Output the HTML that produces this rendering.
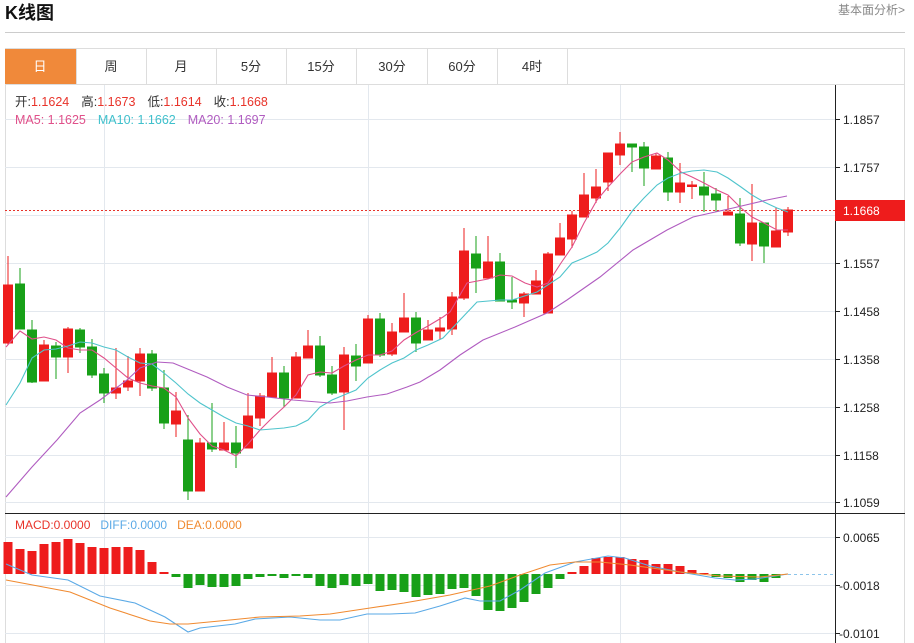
<!DOCTYPE html>
<html><head><meta charset="utf-8"><style>
html,body{margin:0;padding:0;background:#fff;width:914px;height:643px;overflow:hidden}
svg{display:block;font-family:"Liberation Sans","Noto Sans CJK SC",sans-serif}
</style></head><body>
<svg width="914" height="643" viewBox="0 0 914 643" xmlns="http://www.w3.org/2000/svg">
<text x="5" y="19" font-size="18" font-weight="bold" fill="#111">K线图</text>
<text x="905" y="14" font-size="12" fill="#888" text-anchor="end">基本面分析&gt;</text>
<line x1="5" y1="32.5" x2="905" y2="32.5" stroke="#ccc"/>
<rect x="5.5" y="48.5" width="899" height="600" fill="none" stroke="#ddd"/>
<rect x="5" y="49" width="71" height="35" fill="#f0893a"/>
<g stroke="#ddd"><line x1="76.5" y1="49" x2="76.5" y2="84"/><line x1="146.5" y1="49" x2="146.5" y2="84"/><line x1="216.5" y1="49" x2="216.5" y2="84"/><line x1="286.5" y1="49" x2="286.5" y2="84"/><line x1="356.5" y1="49" x2="356.5" y2="84"/><line x1="427.5" y1="49" x2="427.5" y2="84"/><line x1="497.5" y1="49" x2="497.5" y2="84"/><line x1="567.5" y1="49" x2="567.5" y2="84"/><line x1="5" y1="84.5" x2="905" y2="84.5"/></g>
<g font-size="13" text-anchor="middle" fill="#333"><text x="40" y="71" fill="#fff">日</text><text x="111" y="71">周</text><text x="181" y="71">月</text><text x="251" y="71">5分</text><text x="321" y="71">15分</text><text x="392" y="71">30分</text><text x="462" y="71">60分</text><text x="532" y="71">4时</text></g>
<g stroke="#e3e8ee"><line x1="104.5" y1="85" x2="104.5" y2="643"/><line x1="368.5" y1="85" x2="368.5" y2="643"/><line x1="620.5" y1="85" x2="620.5" y2="643"/>
<line x1="5" y1="119.5" x2="835" y2="119.5"/><line x1="5" y1="167.5" x2="835" y2="167.5"/><line x1="5" y1="215.5" x2="835" y2="215.5"/><line x1="5" y1="263.5" x2="835" y2="263.5"/><line x1="5" y1="311.5" x2="835" y2="311.5"/><line x1="5" y1="359.5" x2="835" y2="359.5"/><line x1="5" y1="407.5" x2="835" y2="407.5"/><line x1="5" y1="455.5" x2="835" y2="455.5"/><line x1="5" y1="502.5" x2="835" y2="502.5"/>
<line x1="5" y1="537.5" x2="835" y2="537.5"/><line x1="5" y1="585.5" x2="835" y2="585.5"/><line x1="5" y1="633.5" x2="835" y2="633.5"/></g>
<g font-size="12.5"><text x="15" y="106" fill="#333">开:<tspan fill="#e8332a">1.1624</tspan><tspan dx="12">高:</tspan><tspan fill="#e8332a">1.1673</tspan><tspan dx="12">低:</tspan><tspan fill="#e8332a">1.1614</tspan><tspan dx="12">收:</tspan><tspan fill="#e8332a">1.1668</tspan></text>
<text x="15" y="124" fill="#e0508a">MA5: 1.1625<tspan dx="12" fill="#3fc0cc">MA10: 1.1662</tspan><tspan dx="12" fill="#b05cc0">MA20: 1.1697</tspan></text>
<text x="15" y="529" font-size="12" fill="#e8332a">MACD:0.0000<tspan dx="10" fill="#5aa9e6">DIFF:0.0000</tspan><tspan dx="10" fill="#f08a30">DEA:0.0000</tspan></text></g>
<line x1="5" y1="210.5" x2="835" y2="210.5" stroke="#e8332a" stroke-dasharray="2,2"/>
<g id="candles">
<g stroke="#ee1c1c" fill="#ee1c1c">
<line x1="8" y1="256" x2="8" y2="345"/><rect x="3.5" y="285" width="9" height="58"/>
<line x1="44" y1="340" x2="44" y2="381"/><rect x="39.5" y="345" width="9" height="36"/>
<line x1="68" y1="327" x2="68" y2="373"/><rect x="63.5" y="329" width="9" height="28"/>
<line x1="116" y1="348" x2="116" y2="399"/><rect x="111.5" y="388" width="9" height="5"/>
<line x1="128" y1="356" x2="128" y2="391"/><rect x="123.5" y="381" width="9" height="6"/>
<line x1="140" y1="348" x2="140" y2="396"/><rect x="135.5" y="354" width="9" height="27"/>
<line x1="176" y1="392" x2="176" y2="437"/><rect x="171.5" y="411" width="9" height="13"/>
<line x1="200" y1="438" x2="200" y2="491"/><rect x="195.5" y="443" width="9" height="48"/>
<line x1="224" y1="422" x2="224" y2="450"/><rect x="219.5" y="443" width="9" height="7"/>
<line x1="248" y1="393" x2="248" y2="448"/><rect x="243.5" y="416" width="9" height="32"/>
<line x1="260" y1="393" x2="260" y2="426"/><rect x="255.5" y="396" width="9" height="22"/>
<line x1="272" y1="357" x2="272" y2="397"/><rect x="267.5" y="373" width="9" height="24"/>
<line x1="296" y1="352" x2="296" y2="398"/><rect x="291.5" y="357" width="9" height="41"/>
<line x1="308" y1="330" x2="308" y2="358"/><rect x="303.5" y="346" width="9" height="12"/>
<line x1="344" y1="347" x2="344" y2="430"/><rect x="339.5" y="355" width="9" height="37"/>
<line x1="368" y1="315" x2="368" y2="363"/><rect x="363.5" y="319" width="9" height="44"/>
<line x1="392" y1="323" x2="392" y2="356"/><rect x="387.5" y="332" width="9" height="22"/>
<line x1="404" y1="293" x2="404" y2="332"/><rect x="399.5" y="318" width="9" height="14"/>
<line x1="428" y1="320" x2="428" y2="340"/><rect x="423.5" y="330" width="9" height="10"/>
<line x1="440" y1="317" x2="440" y2="339"/><rect x="435.5" y="328" width="9" height="3"/>
<line x1="452" y1="292" x2="452" y2="335"/><rect x="447.5" y="297" width="9" height="32"/>
<line x1="464" y1="228" x2="464" y2="300"/><rect x="459.5" y="251" width="9" height="47"/>
<line x1="488" y1="236" x2="488" y2="278"/><rect x="483.5" y="262" width="9" height="16"/>
<line x1="524" y1="292" x2="524" y2="317"/><rect x="519.5" y="294" width="9" height="9"/>
<line x1="536" y1="270" x2="536" y2="294"/><rect x="531.5" y="281" width="9" height="13"/>
<line x1="548" y1="252" x2="548" y2="313"/><rect x="543.5" y="254" width="9" height="59"/>
<line x1="560" y1="223" x2="560" y2="255"/><rect x="555.5" y="238" width="9" height="17"/>
<line x1="572" y1="211" x2="572" y2="248"/><rect x="567.5" y="215" width="9" height="24"/>
<line x1="584" y1="173" x2="584" y2="217"/><rect x="579.5" y="195" width="9" height="22"/>
<line x1="596" y1="169" x2="596" y2="203"/><rect x="591.5" y="187" width="9" height="11"/>
<line x1="608" y1="153" x2="608" y2="191"/><rect x="603.5" y="153" width="9" height="29"/>
<line x1="620" y1="132" x2="620" y2="165"/><rect x="615.5" y="144" width="9" height="11"/>
<line x1="656" y1="153" x2="656" y2="169"/><rect x="651.5" y="156" width="9" height="13"/>
<line x1="680" y1="163" x2="680" y2="203"/><rect x="675.5" y="183" width="9" height="9"/>
<line x1="692" y1="181" x2="692" y2="199"/><rect x="687.5" y="185" width="9" height="1.5"/>
<line x1="728" y1="196" x2="728" y2="215"/><rect x="723.5" y="212" width="9" height="3"/>
<line x1="752" y1="184" x2="752" y2="261"/><rect x="747.5" y="223" width="9" height="21"/>
<line x1="776" y1="208" x2="776" y2="247"/><rect x="771.5" y="231" width="9" height="16"/>
<line x1="788" y1="207" x2="788" y2="236"/><rect x="783.5" y="210" width="9" height="22"/>
</g>
<g stroke="#18a018" fill="#18a018">
<line x1="20" y1="268" x2="20" y2="329"/><rect x="15.5" y="284" width="9" height="45"/>
<line x1="32" y1="320" x2="32" y2="383"/><rect x="27.5" y="330" width="9" height="52"/>
<line x1="56" y1="342" x2="56" y2="379"/><rect x="51.5" y="346" width="9" height="11"/>
<line x1="80" y1="328" x2="80" y2="353"/><rect x="75.5" y="330" width="9" height="17"/>
<line x1="92" y1="339" x2="92" y2="378"/><rect x="87.5" y="347" width="9" height="28"/>
<line x1="104" y1="368" x2="104" y2="403"/><rect x="99.5" y="374" width="9" height="19"/>
<line x1="152" y1="350" x2="152" y2="391"/><rect x="147.5" y="354" width="9" height="34"/>
<line x1="164" y1="370" x2="164" y2="429"/><rect x="159.5" y="388" width="9" height="35"/>
<line x1="188" y1="415" x2="188" y2="500"/><rect x="183.5" y="440" width="9" height="51"/>
<line x1="212" y1="403" x2="212" y2="452"/><rect x="207.5" y="443" width="9" height="6"/>
<line x1="236" y1="426" x2="236" y2="468"/><rect x="231.5" y="443" width="9" height="10"/>
<line x1="284" y1="366" x2="284" y2="407"/><rect x="279.5" y="373" width="9" height="25"/>
<line x1="320" y1="336" x2="320" y2="377"/><rect x="315.5" y="346" width="9" height="29"/>
<line x1="332" y1="366" x2="332" y2="395"/><rect x="327.5" y="375" width="9" height="18"/>
<line x1="356" y1="344" x2="356" y2="381"/><rect x="351.5" y="356" width="9" height="10"/>
<line x1="380" y1="313" x2="380" y2="357"/><rect x="375.5" y="319" width="9" height="36"/>
<line x1="416" y1="312" x2="416" y2="352"/><rect x="411.5" y="318" width="9" height="25"/>
<line x1="476" y1="236" x2="476" y2="293"/><rect x="471.5" y="254" width="9" height="14"/>
<line x1="500" y1="253" x2="500" y2="301"/><rect x="495.5" y="262" width="9" height="39"/>
<line x1="512" y1="277" x2="512" y2="309"/><rect x="507.5" y="300" width="9" height="2"/>
<line x1="632" y1="144" x2="632" y2="172"/><rect x="627.5" y="144" width="9" height="3"/>
<line x1="644" y1="142" x2="644" y2="186"/><rect x="639.5" y="147" width="9" height="21"/>
<line x1="668" y1="152" x2="668" y2="201"/><rect x="663.5" y="158" width="9" height="34"/>
<line x1="704" y1="172" x2="704" y2="212"/><rect x="699.5" y="187" width="9" height="8"/>
<line x1="716" y1="188" x2="716" y2="212"/><rect x="711.5" y="194" width="9" height="6"/>
<line x1="740" y1="198" x2="740" y2="246"/><rect x="735.5" y="214" width="9" height="29"/>
<line x1="764" y1="223" x2="764" y2="263"/><rect x="759.5" y="223" width="9" height="23"/>
</g></g>
<g fill="none" stroke-width="1.1">
<polyline stroke="#e0508a" points="6,347 20,331 32,339 44,337 56,340 68,348 80,350 92,350 104,358 116,368 128,378 140,383 152,386 164,388 176,397 188,418 200,434 212,446 224,450 236,456 248,444 260,430 272,418 284,407 296,395 308,375 320,372 332,373 344,366 356,360 368,355 380,355 392,351 404,340 417,332 428,326 443,317 450,312 467,283 488,279 500,275 512,276 525,283 537,287 548,283 561,263 572,247 584,223 597,200 608,187 621,173 632,162 644,157 657,153 668,160 681,172 692,177 704,183 717,190 728,195 741,208 752,217 764,223 777,230 788,230"/>
<polyline stroke="#4fc4cc" points="6,405 20,383 32,358 44,350 56,349 68,346 80,342 92,343 104,347 116,350 128,357 140,363 152,364 164,373 176,383 188,394 200,403 212,410 224,417 236,423 248,426 260,430 272,429 284,428 296,426 308,420 320,407 332,400 344,395 356,390 368,378 380,370 392,363 404,358 416,350 428,345 443,338 460,320 477,302 500,300 512,300 537,292 560,277 572,263 584,258 597,252 608,243 621,227 633,210 644,198 657,185 668,178 681,173 692,171 704,170 717,172 728,178 741,187 752,195 764,202 777,208 788,212"/>
<polyline stroke="#b05cc0" points="6,497 32,467 57,440 80,413 100,400 127,380 140,368 157,362 173,363 190,370 207,377 227,387 247,395 267,397 293,400 330,403 347,401 367,397 387,394 407,387 420,382 440,370 460,355 483,340 515,327 547,313 567,300 600,277 633,250 667,230 693,217 733,208 767,200 787,196"/>
</g>
<g>
<g fill="#ee1c1c">
<rect x="3.5" y="542" width="9" height="32"/><rect x="15.5" y="549" width="9" height="25"/><rect x="27.5" y="551" width="9" height="23"/><rect x="39.5" y="544" width="9" height="30"/><rect x="51.5" y="542" width="9" height="32"/><rect x="63.5" y="539" width="9" height="35"/><rect x="75.5" y="543" width="9" height="31"/><rect x="87.5" y="547" width="9" height="27"/><rect x="99.5" y="548" width="9" height="26"/><rect x="111.5" y="547" width="9" height="27"/><rect x="123.5" y="547" width="9" height="27"/><rect x="135.5" y="550" width="9" height="24"/><rect x="147.5" y="562" width="9" height="12"/><rect x="159.5" y="572" width="9" height="2"/>
<rect x="567.5" y="572" width="9" height="2"/><rect x="579.5" y="566" width="9" height="8"/><rect x="591.5" y="558" width="9" height="16"/><rect x="603.5" y="557" width="9" height="17"/><rect x="615.5" y="557" width="9" height="17"/><rect x="627.5" y="559" width="9" height="15"/><rect x="639.5" y="560" width="9" height="14"/><rect x="651.5" y="564" width="9" height="10"/><rect x="663.5" y="564" width="9" height="10"/><rect x="675.5" y="566" width="9" height="8"/><rect x="687.5" y="570" width="9" height="4"/><rect x="699.5" y="573" width="9" height="1"/>
</g>
<g fill="#18a018">
<rect x="171.5" y="574" width="9" height="3"/><rect x="183.5" y="574" width="9" height="14"/><rect x="195.5" y="574" width="9" height="11"/><rect x="207.5" y="574" width="9" height="13"/><rect x="219.5" y="574" width="9" height="13"/><rect x="231.5" y="574" width="9" height="12"/><rect x="243.5" y="574" width="9" height="5"/><rect x="255.5" y="574" width="9" height="3"/><rect x="267.5" y="574" width="9" height="2"/><rect x="279.5" y="574" width="9" height="4"/><rect x="291.5" y="574" width="9" height="2"/><rect x="303.5" y="574" width="9" height="4"/><rect x="315.5" y="574" width="9" height="12"/><rect x="327.5" y="574" width="9" height="14"/><rect x="339.5" y="574" width="9" height="11"/><rect x="351.5" y="574" width="9" height="12"/><rect x="363.5" y="574" width="9" height="10"/><rect x="375.5" y="574" width="9" height="17"/><rect x="387.5" y="574" width="9" height="16"/><rect x="399.5" y="574" width="9" height="18"/><rect x="411.5" y="574" width="9" height="23"/><rect x="423.5" y="574" width="9" height="21"/><rect x="435.5" y="574" width="9" height="20"/><rect x="447.5" y="574" width="9" height="15"/><rect x="459.5" y="574" width="9" height="14"/><rect x="471.5" y="574" width="9" height="22"/><rect x="483.5" y="574" width="9" height="36"/><rect x="495.5" y="574" width="9" height="37"/><rect x="507.5" y="574" width="9" height="34"/><rect x="519.5" y="574" width="9" height="28"/><rect x="531.5" y="574" width="9" height="20"/><rect x="543.5" y="574" width="9" height="14"/><rect x="555.5" y="574" width="9" height="5"/>
<rect x="711.5" y="574" width="9" height="3"/><rect x="723.5" y="574" width="9" height="4"/><rect x="735.5" y="574" width="9" height="8"/><rect x="747.5" y="574" width="9" height="6"/><rect x="759.5" y="574" width="9" height="8"/><rect x="771.5" y="574" width="9" height="4"/>
</g>
<line x1="788" y1="574.5" x2="835" y2="574.5" stroke="#8cc4ea" stroke-dasharray="3,3"/>
<g fill="none" stroke-width="1.1">
<polyline stroke="#5aa9e6" points="6,564 32,575 68,580 100,596 135,603 165,617 188,632 200,628 235,624 255,619 290,617 320,620 340,620 367,614 390,614 415,613 440,606 465,598 480,601 500,601 520,590 545,573 575,562 608,556 625,558 650,566 680,572 715,578 735,580 755,579 775,576 788,574"/>
<polyline stroke="#f08a30" points="6,580 70,592 110,608 150,621 170,624 188,624 230,620 260,617 300,616 330,614 370,608 404,603 450,595 490,586 520,575 550,565 575,562 600,562 630,565 680,572 720,576 760,577 788,574"/>
</g></g>
<line x1="5" y1="513.5" x2="905" y2="513.5" stroke="#222"/>
<line x1="835.5" y1="85" x2="835.5" y2="643" stroke="#222"/>
<g stroke="#222"><line x1="835" y1="119.5" x2="840" y2="119.5"/><line x1="835" y1="167.5" x2="840" y2="167.5"/><line x1="835" y1="263.5" x2="840" y2="263.5"/><line x1="835" y1="311.5" x2="840" y2="311.5"/><line x1="835" y1="359.5" x2="840" y2="359.5"/><line x1="835" y1="407.5" x2="840" y2="407.5"/><line x1="835" y1="455.5" x2="840" y2="455.5"/><line x1="835" y1="502.5" x2="840" y2="502.5"/><line x1="835" y1="537.5" x2="840" y2="537.5"/><line x1="835" y1="585.5" x2="840" y2="585.5"/><line x1="835" y1="633.5" x2="840" y2="633.5"/></g>
<g font-size="12" fill="#222"><text x="843" y="124">1.1857</text><text x="843" y="172">1.1757</text><text x="843" y="268">1.1557</text><text x="843" y="316">1.1458</text><text x="843" y="364">1.1358</text><text x="843" y="412">1.1258</text><text x="843" y="460">1.1158</text><text x="843" y="507">1.1059</text><text x="843" y="542">0.0065</text><text x="839" y="590">-0.0018</text><text x="839" y="638">-0.0101</text></g>
<rect x="835" y="200" width="70" height="21" fill="#ee1c1c"/>
<text x="843" y="215" font-size="12" fill="#fff">1.1668</text>
</svg>
</body></html>
